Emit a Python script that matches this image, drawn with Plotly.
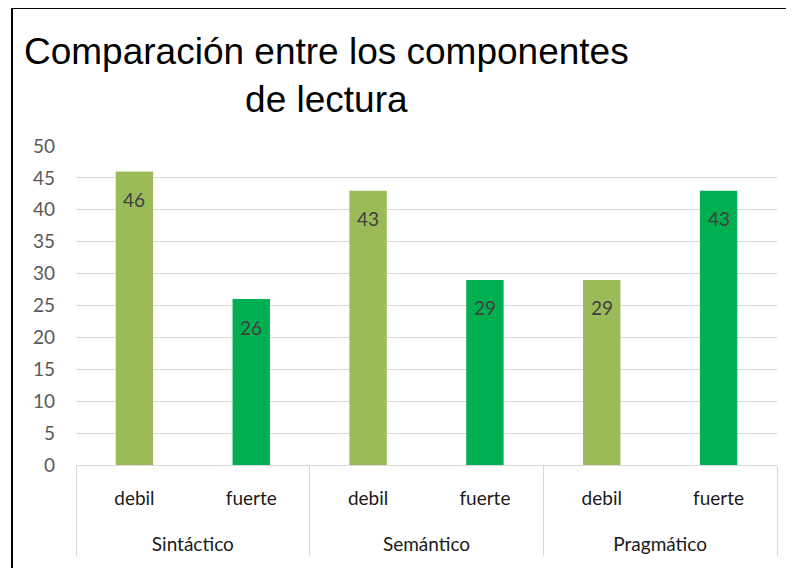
import plotly.graph_objects as go

groups = ["Sintáctico", "Sintáctico", "Semántico", "Semántico", "Pragmático", "Pragmático"]
levels = ["debil", "fuerte", "debil", "fuerte", "debil", "fuerte"]
values = [46, 26, 43, 29, 29, 43]
level_colors = {"debil": "#9BBB59", "fuerte": "#00B050"}
y_ticks = [0, 5, 10, 15, 20, 25, 30, 35, 40, 45, 50]
title_text = "Comparación entre los componentes<br>de lectura"

# page body has an 8px margin, so figure coordinates are page coordinates minus 8
OFF = 8
W, H = 794 - OFF, 568 - OFF
L, R, T, B = 76 - OFF, 17, 146 - OFF, 103
pw, ph = W - L - R, H - T - B

LBL = "<span style='font-size:19px'>{}</span>"
group_labels = ["<br>" + LBL.format(g) for g in groups]
level_labels = [LBL.format(l) for l in levels]

fig = go.Figure()
fig.add_trace(go.Bar(
    x=[group_labels, level_labels],
    y=values,
    marker=dict(color=[level_colors[l] for l in levels], line=dict(width=0)),
    width=0.32,
    hoverinfo="skip",
))

annotations = []
for i, v in enumerate(values):
    annotations.append(dict(
        x=i, y=v, xref="x", yref="y", text=str(v), showarrow=False,
        yshift=-28, yanchor="middle",
        font=dict(family="Lato, Open Sans, sans-serif", size=19, color="#404040"),
    ))

def px(xp):
    return (xp - OFF - L) / pw

def py(yp):
    return (H - B - (yp - OFF)) / ph

annotations.append(dict(
    x=px(326), y=py(75), xref="paper", yref="paper",
    text=title_text, showarrow=False, align="center", xanchor="center", yanchor="middle",
    font=dict(family="Liberation Sans, Arial, sans-serif", size=37, color="#000000"),
))

shapes = [
    dict(type="line", xref="paper", yref="paper", x0=px(12), x1=px(12), y0=py(8), y1=py(580),
         line=dict(color="#000000", width=2)),
    dict(type="line", xref="paper", yref="paper", x0=px(12), x1=px(787), y0=py(8), y1=py(8),
         line=dict(color="#000000", width=2)),
    dict(type="line", xref="paper", yref="paper", x0=px(787), x1=px(787), y0=py(8), y1=py(580),
         line=dict(color="#000000", width=2)),
]

fig.update_layout(
    width=W, height=H,
    margin=dict(l=L, r=R, t=T, b=B),
    plot_bgcolor="white", paper_bgcolor="white",
    showlegend=False,
    annotations=annotations,
    shapes=shapes,
    xaxis=dict(
        type="multicategory", automargin=False,
        showline=True, linecolor="#D9D9D9", linewidth=1,
        showdividers=True, dividercolor="#D9D9D9", dividerwidth=1,
        tickfont=dict(family="Lato, Open Sans, sans-serif", size=24, color="#1a1a1a"),
        ticks="", ticklabelstandoff=10,
        showgrid=False,
    ),
    yaxis=dict(
        range=[0, 50], tickvals=y_ticks, showgrid=True, gridcolor="#D9D9D9", gridwidth=1,
        zeroline=False, showline=False, ticks="", automargin=False, ticklabelstandoff=20,
        tickfont=dict(family="Lato, Open Sans, sans-serif", size=19, color="#595959"),
    ),
)

fig.write_html("out.html")
